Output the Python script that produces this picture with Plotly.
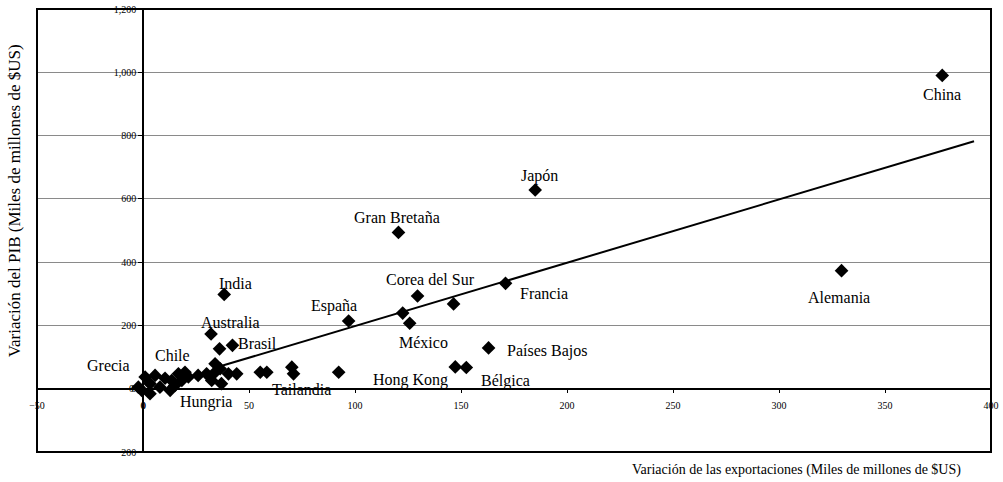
import plotly.graph_objects as go

# ---- data ----
countries = [
    "China", "Japón", "Gran Bretaña", "Alemania", "Francia", "Corea del Sur", "",
    "España", "", "México", "Países Bajos", "Hong Kong", "Bélgica", "Tailandia",
    "India", "Australia", "Brasil", "",
    "", "", "", "", "",
    "", "Grecia", "", "Chile", "", "", "",
    "", "", "", "", "", "", "", "",
    "", "", "", "", "", "Hungria", "", "",
]
export_change = [
    377, 185, 120.5, 329.5, 171, 129.5, 146.5,
    97, 122.5, 125.8, 163, 147.3, 152.5, 92.3,
    38.3, 32.1, 42.2, 36.1,
    44.2, 55.3, 58.4, 70.2, 71,
    -0.6, -2.2, 3.3, 5.7, 1, 8, 3.3,
    12.8, 13.5, 16.7, 19.8, 21.4, 15, 18.3, 10.4,
    26, 30, 34, 34, 36.4, 37, 32.4, 40.3,
]
gdp_change = [
    990, 628, 494, 373, 333, 293, 268,
    214, 239, 207, 129, 69, 67, 52,
    298, 173, 137, 126,
    47, 52, 52, 68, 47,
    -5, 5, 16, 42, 37, 5, -16,
    -5, 26, 47, 52, 37, 10, 26, 33,
    42, 47, 79, 52, 63, 16, 26, 47,
]
trend_x = [36, 392]
trend_y = [70, 782]

x_ticks = [-50, 0, 50, 100, 150, 200, 250, 300, 350, 400]
y_ticks = [-200, 0, 200, 400, 600, 800, 1000, 1200]

x_title = "Variación de las exportaciones (Miles de millones de $US)"
y_title = "Variación del PIB (Miles de millones de $US)"

# ---- label placement (pixel offsets from the marker) ----
label_offsets = {
    "China": (0, -19), "Japón": (4, 14), "Gran Bretaña": (-1, 15),
    "Alemania": (-3, -27), "Francia": (38, -10), "Corea del Sur": (13, 17),
    "España": (-15, 15), "México": (14, -19), "Países Bajos": (58, -3),
    "Hong Kong": (-45, -13), "Bélgica": (39, -13), "Tailandia": (-37, -17),
    "India": (11, 11), "Australia": (19, 11), "Brasil": (25, 2),
    "Chile": (17, 20), "Grecia": (-30, 22), "Hungria": (-15, -18),
}

SERIF = "Liberation Serif, Times New Roman, serif"
TICKFONT = dict(family=SERIF, size=10, color="black")

fig = go.Figure()
fig.add_trace(go.Scatter(
    x=trend_x, y=trend_y, mode="lines",
    line=dict(color="black", width=2), hoverinfo="skip", showlegend=False,
))
fig.add_trace(go.Scatter(
    x=export_change, y=gdp_change, mode="markers",
    marker=dict(symbol="diamond", size=10.5, color="black"),
    text=countries, showlegend=False,
))

for name, xv, yv in zip(countries, export_change, gdp_change):
    if not name:
        continue
    dx, dy = label_offsets[name]
    fig.add_annotation(
        x=xv, y=yv, xref="x", yref="y", text=name, showarrow=False,
        xshift=dx, yshift=dy, font=dict(family=SERIF, size=16, color="black"),
    )

# the "0" tick labels at the axis crossing (Plotly hides them there)
fig.add_annotation(x=0, y=0, xref="x", yref="y", text="0", showarrow=False,
                   xanchor="center", yanchor="top", yshift=-9, font=TICKFONT)
fig.add_annotation(x=0, y=0, xref="x", yref="y", text="0", showarrow=False,
                   xanchor="right", yanchor="middle", xshift=-7, font=TICKFONT)

fig.add_annotation(
    text=x_title, xref="paper", yref="paper", x=0.7966, y=-0.04,
    showarrow=False, xanchor="center", yanchor="middle",
    font=dict(family=SERIF, size=14, color="black"),
)
fig.add_annotation(
    text=y_title, xref="paper", yref="paper", x=-0.024, y=0.566,
    showarrow=False, textangle=-90, xanchor="center", yanchor="middle",
    font=dict(family=SERIF, size=17, color="black"),
)

# plot-area frame
fig.add_shape(type="rect", xref="paper", yref="paper", x0=0, x1=1, y0=0, y1=1,
              line=dict(color="black", width=2), layer="above")

fig.update_layout(
    width=1003, height=482,
    margin=dict(l=37, r=12, t=9, b=30, autoexpand=False),
    paper_bgcolor="white", plot_bgcolor="white",
    font=dict(family=SERIF, color="black"),
    showlegend=False,
    xaxis=dict(
        range=[-50, 400], tickvals=x_ticks, anchor="free",
        position=200 / 1400, showgrid=False, automargin=False,
        zeroline=True, zerolinecolor="black", zerolinewidth=1.5,
        showline=True, linecolor="black", linewidth=1.5,
        ticks="outside", ticklen=4, tickcolor="black",
        tickfont=TICKFONT, ticklabelstandoff=4,
    ),
    yaxis=dict(
        range=[-200, 1200], tickvals=y_ticks, tickformat=",", anchor="free",
        position=50 / 450, showgrid=True, gridcolor="#8a8a8a", gridwidth=1,
        automargin=False,
        zeroline=True, zerolinecolor="black", zerolinewidth=1.5,
        showline=True, linecolor="black", linewidth=1.5,
        ticks="outside", ticklen=4, tickcolor="black",
        tickfont=TICKFONT,
    ),
)

fig.write_html(
    "out.html",
    config={"displayModeBar": False},
    post_script="document.body.style.margin='0';document.body.style.overflow='hidden';",
)
